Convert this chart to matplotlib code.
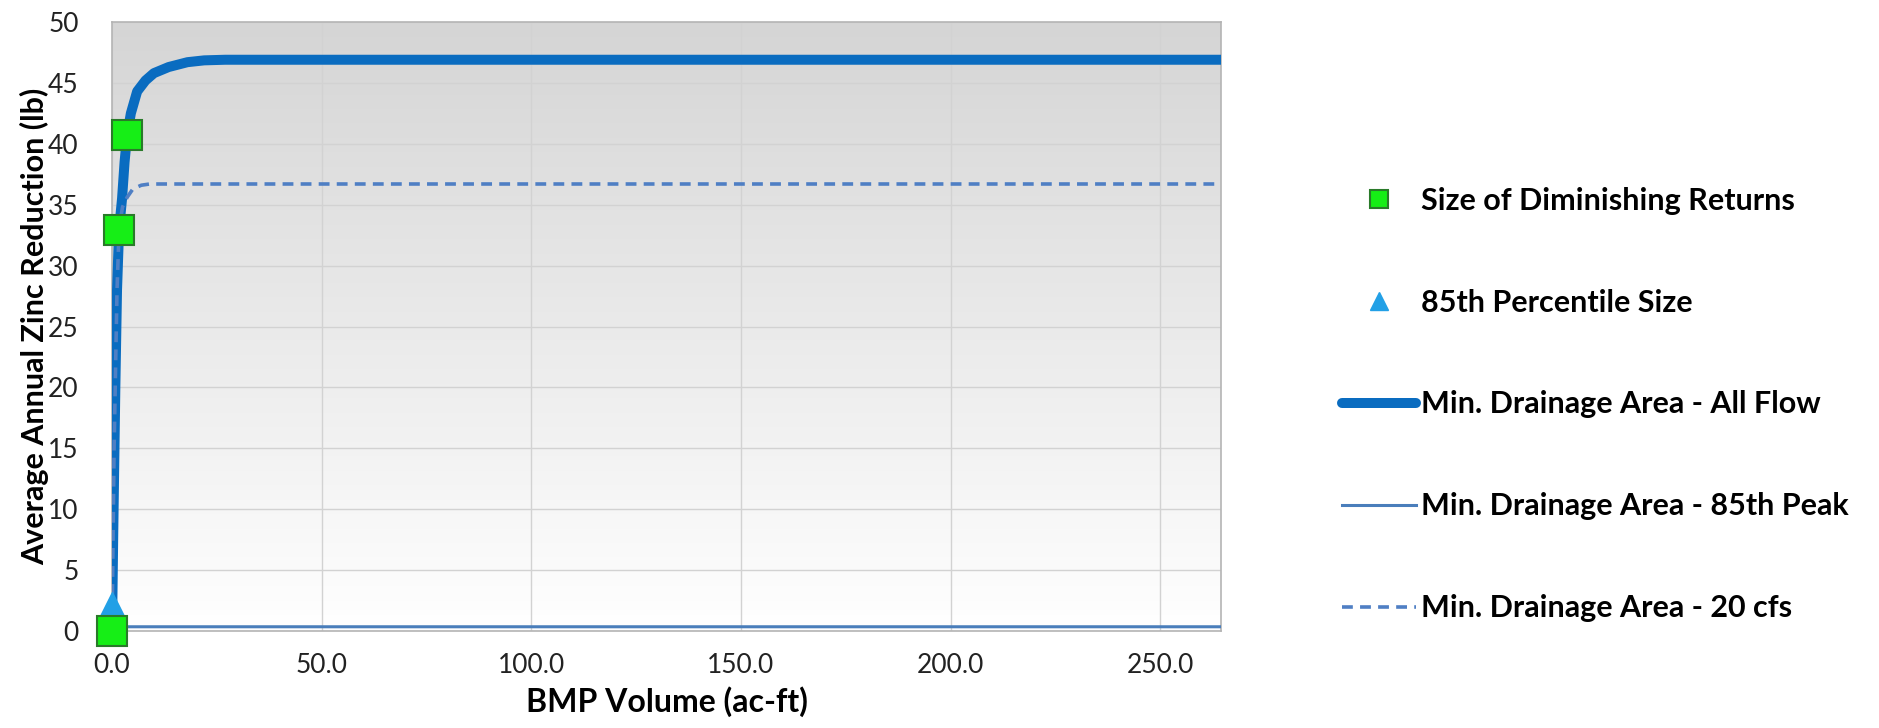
import numpy as np
import matplotlib
matplotlib.use("Agg")
import matplotlib.pyplot as plt
from matplotlib.colors import LinearSegmentedColormap

plt.rcParams['font.family'] = ['Lato', 'DejaVu Sans']

# curve data
all_flow_x = [0, 0.3, 0.8, 1.2, 1.7, 2.4, 3.0, 3.6, 4.5, 6, 8, 10, 13.5, 18, 22, 27, 265]
all_flow_y = [0, 8, 20, 28, 33, 35.5, 38.5, 40.7, 42.5, 44.3, 45.2, 45.8, 46.3, 46.7, 46.85, 46.9, 46.9]

peak85_x = [0, 0.3, 265]
peak85_y = [0, 0.35, 0.35]

cfs20_x = [0, 0.5, 1.2, 1.7, 2.5, 3.6, 5, 7, 9, 265]
cfs20_y = [0, 15, 28, 33, 34.8, 35.6, 36.3, 36.6, 36.7, 36.7]

dim_x = [0.0, 1.7, 3.6]
dim_y = [0.0, 32.9, 40.7]

pct85_x = [0.1]
pct85_y = [2.0]

x_ticks = [0, 50, 100, 150, 200, 250]
y_ticks = [0, 5, 10, 15, 20, 25, 30, 35, 40, 45, 50]

fig = plt.figure(figsize=(18.79, 7.28), dpi=100)
ax = fig.add_axes([0.0596, 0.1332, 0.5902, 0.8366])

# gray-to-white gradient like excel plot area
cmap = LinearSegmentedColormap.from_list('bg', ['#ffffff', '#d5d5d5'])
grad = np.linspace(0, 1, 256).reshape(-1, 1)
ax.imshow(grad, aspect='auto', cmap=cmap, origin='lower',
          extent=[0, 264.5, 0, 50], zorder=0)

ax.plot(peak85_x, peak85_y, color='#4a7ebb', lw=2.2, zorder=3,
        label='Min. Drainage Area - 85th Peak')
ax.plot(all_flow_x, all_flow_y, color='#0a6cc0', lw=7.2, zorder=4,
        solid_capstyle='round', label='Min. Drainage Area - All Flow')
ax.plot(cfs20_x, cfs20_y, color='#4f7fc4', lw=2.6, ls=(0, (3, 2)), zorder=5,
        label='Min. Drainage Area - 20 cfs')
ax.plot(dim_x, dim_y, ls='none', marker='s', ms=21, mfc='#16ee16', mec='#2a7a2a',
        mew=1.5, zorder=7, clip_on=False, label='Size of Diminishing Returns')
ax.plot(pct85_x, pct85_y, ls='none', marker='^', ms=22, mfc='#22a0e6', mec='#22a0e6',
        zorder=6, clip_on=False, label='85th Percentile Size')

ax.set_xlim(0, 264.5)
ax.set_ylim(0, 50)
ax.set_xticks(x_ticks)
ax.set_xticklabels(['%.1f' % v for v in x_ticks])
ax.set_yticks(y_ticks)
ax.tick_params(length=0, labelsize=19, colors='#222222')
ax.tick_params(axis='y', pad=24)
ax.tick_params(axis='x', pad=16)
ax.grid(True, color='#d2d2d2', lw=1)
ax.set_axisbelow(True)
for s in ax.spines.values():
    s.set_color('#b4b4b4')
    s.set_linewidth(1.2)

ax.set_xlabel('BMP Volume (ac-ft)', fontsize=23, fontweight='bold', labelpad=6)
ax.set_ylabel('Average Annual Zinc Reduction (lb)', fontsize=22, fontweight='bold', labelpad=-1)

h, l = ax.get_legend_handles_labels()
order = [3, 4, 1, 0, 2]
ax.legend([h[i] for i in order], [l[i] for i in order], loc='center left',
          bbox_to_anchor=(1.084, 0.372), frameon=False, markerscale=0.6,
          prop={'weight': 'bold', 'size': 22}, labelspacing=2.42,
          handlelength=2.45, handletextpad=0.15)

fig.savefig('out.png', dpi=100)
